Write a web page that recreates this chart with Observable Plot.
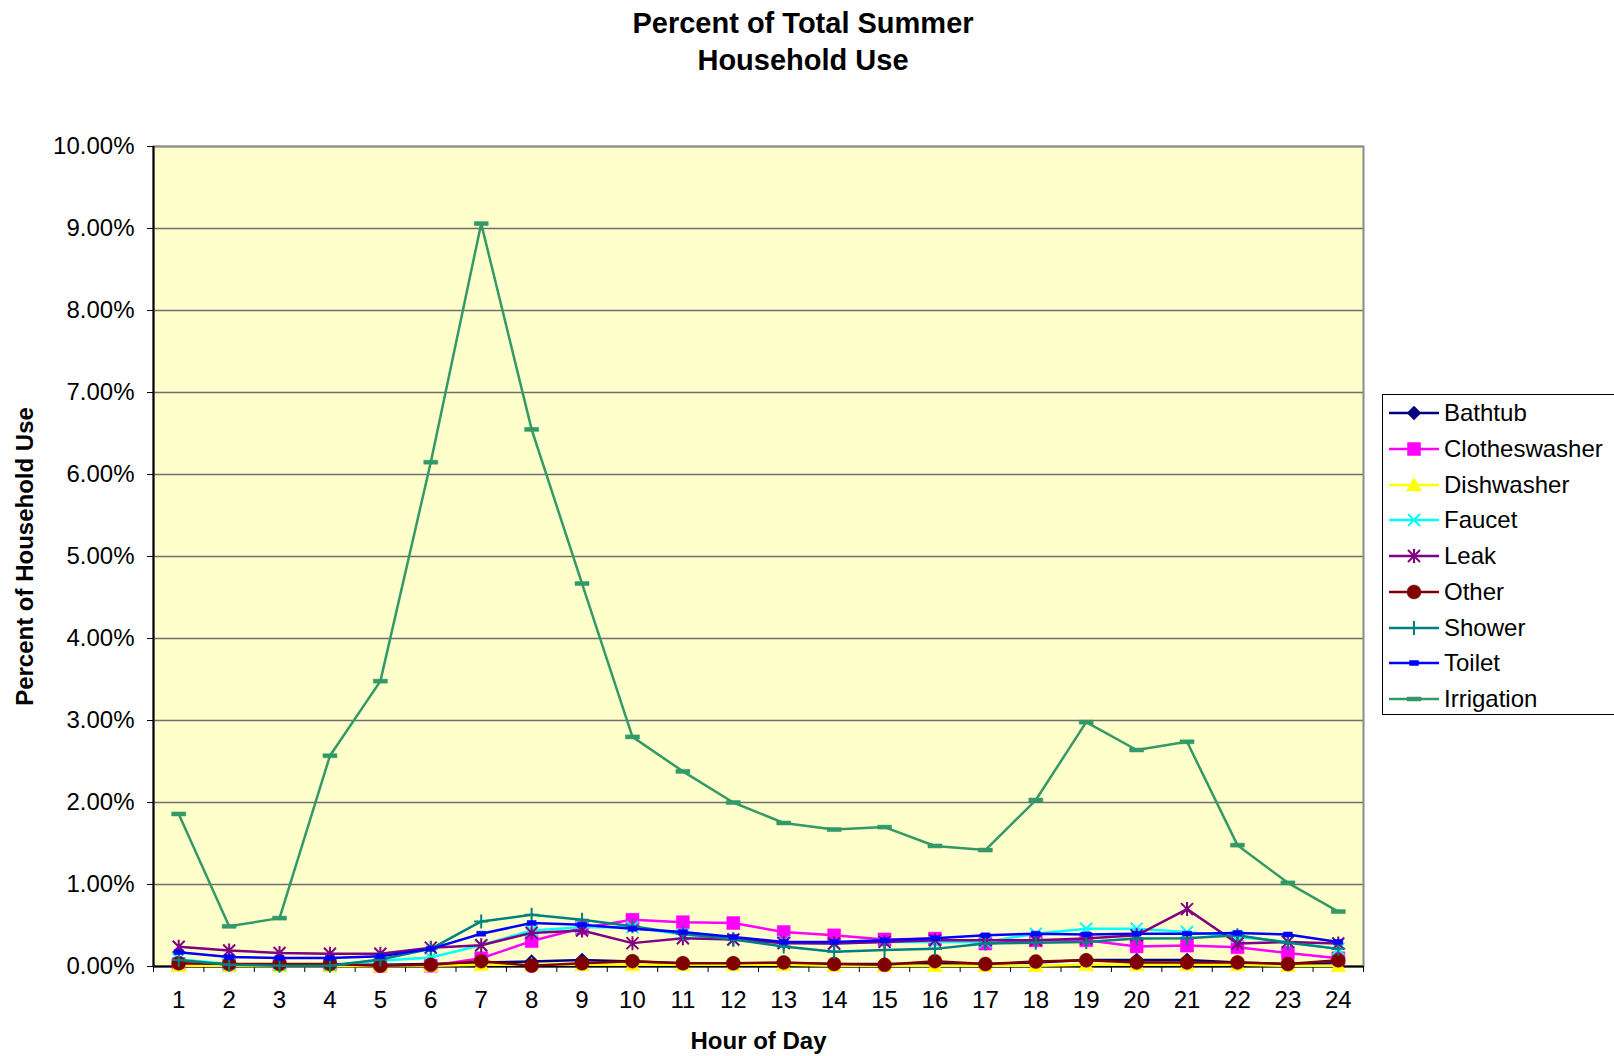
<!DOCTYPE html>
<html><head><meta charset="utf-8">
<script src="https://cdn.jsdelivr.net/npm/d3@7"></script>
<script src="https://cdn.jsdelivr.net/npm/@observablehq/plot@0.6"></script>
<style>
body{margin:0;background:#fff;font-family:"Liberation Sans",Arial,sans-serif;}
#wrap{position:relative;width:1614px;height:1056px;overflow:hidden;}
#title{height:100px;box-sizing:border-box;padding-top:5px;text-align:center;font-weight:bold;font-size:29px;line-height:37px;width:1606px;}
#chart svg{display:block;}
#legend{position:absolute;left:1382px;top:394px;width:250px;height:321px;border:1px solid #000;background:#fff;box-sizing:border-box;}
.item{position:absolute;left:0;height:36px;display:flex;align-items:center;font-size:24px;white-space:nowrap;}
.item svg{margin-left:6px;margin-right:5px;}
</style></head>
<body>
<div id="wrap">
<div id="title">Percent of Total Summer<br>Household Use</div>
<div id="chart"></div>
<div id="legend"></div>
</div>
<script>
// Categories
const hours = [1,2,3,4,5,6,7,8,9,10,11,12,13,14,15,16,17,18,19,20,21,22,23,24];
const yTicks = [0,1,2,3,4,5,6,7,8,9,10];
const seriesNames = ["Bathtub","Clotheswasher","Dishwasher","Faucet","Leak","Other","Shower","Toilet","Irrigation"];

// Series values (percent of household use)
const bathtub       = [0.03,0.02,0.02,0.02,0.02,0.03,0.05,0.06,0.08,0.06,0.04,0.04,0.04,0.03,0.03,0.04,0.03,0.05,0.08,0.08,0.08,0.05,0.03,0.04];
const clotheswasher = [0.03,0.02,0.02,0.02,0.01,0.01,0.10,0.31,0.47,0.57,0.54,0.53,0.42,0.38,0.33,0.34,0.28,0.32,0.32,0.245,0.255,0.235,0.165,0.10];
const dishwasher    = [0.01,0.01,0.005,0.005,0.005,0.01,0.02,0.02,0.02,0.02,0.02,0.02,0.02,0.01,0.01,0.01,0.01,0.01,0.02,0.02,0.02,0.02,0.01,0.01];
const faucet        = [0.09,0.03,0.02,0.02,0.07,0.11,0.26,0.44,0.48,0.48,0.39,0.33,0.30,0.28,0.30,0.30,0.30,0.40,0.46,0.46,0.42,0.36,0.30,0.215];
const leak          = [0.24,0.195,0.165,0.155,0.155,0.23,0.26,0.41,0.44,0.285,0.345,0.33,0.285,0.28,0.30,0.32,0.32,0.32,0.34,0.38,0.70,0.28,0.30,0.28];
const other         = [0.04,0.03,0.03,0.03,0.01,0.02,0.065,0.01,0.04,0.065,0.04,0.04,0.05,0.03,0.02,0.065,0.03,0.06,0.075,0.05,0.05,0.05,0.03,0.075];
const shower        = [0.08,0.02,0.01,0.01,0.085,0.215,0.55,0.63,0.57,0.49,0.40,0.33,0.245,0.18,0.20,0.215,0.28,0.29,0.30,0.34,0.345,0.38,0.29,0.215];
const toilet        = [0.175,0.115,0.105,0.105,0.125,0.215,0.40,0.53,0.51,0.46,0.42,0.36,0.30,0.30,0.32,0.345,0.38,0.40,0.39,0.40,0.40,0.41,0.39,0.30];
const irrigation    = [1.86,0.49,0.59,2.57,3.48,6.15,9.06,6.55,4.67,2.80,2.38,2.00,1.75,1.67,1.70,1.47,1.42,2.03,2.98,2.64,2.74,1.48,1.02,0.67];

const seriesColors = ["#000080","#FF00FF","#FFFF00","#00FFFF","#800080","#800000","#008080","#0000FF","#339966"];

// Marker shapes
const symDiamond = {draw(c){c.moveTo(0,-7);c.lineTo(7,0);c.lineTo(0,7);c.lineTo(-7,0);c.closePath();}};
const symSquare  = {draw(c){c.rect(-6.5,-6.5,13,13);}};
const symTri     = {draw(c){c.moveTo(0,-7.5);c.lineTo(7.5,6);c.lineTo(-7.5,6);c.closePath();}};
const symTimes   = {draw(c){c.moveTo(-6,-6);c.lineTo(6,6);c.moveTo(-6,6);c.lineTo(6,-6);}};
const symStar    = {draw(c){c.moveTo(-6,-6);c.lineTo(6,6);c.moveTo(-6,6);c.lineTo(6,-6);c.moveTo(0,-7);c.lineTo(0,7);}};
const symCircle  = {draw(c){c.moveTo(7,0);c.arc(0,0,7,0,2*Math.PI);}};
const symPlus    = {draw(c){c.moveTo(-7,0);c.lineTo(7,0);c.moveTo(0,-7);c.lineTo(0,7);}};
const symSmall   = {draw(c){c.rect(-4.5,-2.5,9,5);}};
const symDash    = {draw(c){c.rect(-7,-2,14,4);}};

const seriesSymbols = [symDiamond,symSquare,symTri,symTimes,symStar,symCircle,symPlus,symSmall,symDash];
const seriesFilled  = [true,true,true,false,false,true,false,true,true];
const seriesValues  = [bathtub,clotheswasher,dishwasher,faucet,leak,other,shower,toilet,irrigation];

const series = seriesNames.map((name,i)=>({
  name, color: seriesColors[i], symbol: seriesSymbols[i], filled: seriesFilled[i],
  data: hours.map((h,j)=>({hour:h, value: seriesValues[i][j]}))
}));

const boundaries = hours.map(h=>h-0.5).concat([hours[hours.length-1]+0.5]);

const marks = [
  Plot.frame({fill:"#FFFFCC", stroke:"none"}),
  Plot.gridY({ticks: yTicks, stroke:"#6e6e6e", strokeOpacity:1, strokeWidth:1.5}),
  Plot.frame({stroke:"#8a8a8a", strokeWidth:2}),
  Plot.ruleX([boundaries[0]], {stroke:"#000", strokeWidth:2}),
  Plot.ruleY([0], {stroke:"#000", strokeWidth:2}),
  Plot.axisY({ticks: yTicks, tickFormat: d=>d.toFixed(2)+"%", tickSize:6, tickPadding:13, fontSize:24, label:null}),
  Plot.axisX({ticks: hours, tickSize:0, tickPadding:24, fontSize:24, label:null, tickFormat: d=>String(d)}),
  Plot.axisX({ticks: boundaries, tickSize:6, tickFormat: ()=>"", label:null}),
];
for (const s of series) {
  marks.push(Plot.line(s.data, {x:"hour", y:"value", stroke:s.color, strokeWidth:2.5}));
  marks.push(Plot.dot(s.data, {x:"hour", y:"value", symbol:s.symbol,
    fill: s.filled ? s.color : "none", stroke: s.color, strokeWidth: s.filled ? 0.5 : 2}));
}
marks.push(Plot.text(["Hour of Day"], {text:d=>d, frameAnchor:"bottom", dy:82, fontWeight:"bold", fontSize:24}));
marks.push(Plot.text(["Percent of Household Use"], {text:d=>d, frameAnchor:"left", textAnchor:"middle", rotate:-90, dx:-128, dy:0, fontWeight:"bold", fontSize:24}));

const chart = Plot.plot({
  width:1614, height:956,
  marginTop:46, marginBottom:90, marginLeft:153, marginRight:251,
  x:{type:"linear", domain:[boundaries[0], boundaries[boundaries.length-1]]},
  y:{domain:[yTicks[0], yTicks[yTicks.length-1]]},
  style:{fontFamily:"'Liberation Sans', Arial, sans-serif", color:"#000", background:"transparent", overflow:"visible"},
  marks
});
document.getElementById("chart").appendChild(chart);

// Legend
const legend = d3.select("#legend");
series.forEach((s,i)=>{
  const item = legend.append("div").attr("class","item").style("top", (0.3 + i*35.7)+"px");
  const svg = item.append("svg").attr("width",50).attr("height",20);
  svg.append("line").attr("x1",0).attr("x2",50).attr("y1",10).attr("y2",10).attr("stroke",s.color).attr("stroke-width",2.5);
  svg.append("path").attr("transform","translate(25,10)").attr("d", d3.symbol(s.symbol)())
    .attr("fill", s.filled ? s.color : "none").attr("stroke", s.color).attr("stroke-width", s.filled ? 0.5 : 2);
  item.append("span").text(s.name);
});
</script>
</body></html>
